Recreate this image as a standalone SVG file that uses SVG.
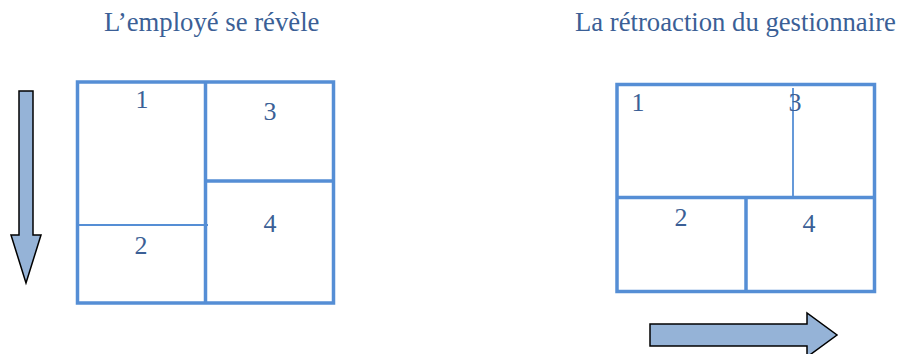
<svg xmlns="http://www.w3.org/2000/svg" width="897" height="354" viewBox="0 0 897 354">
<style>
.box{fill:none;stroke:#558ED5;stroke-width:3.5}
.thin{stroke:#558ED5;stroke-width:1.8;fill:none}
.t{font-family:"Liberation Serif",serif;fill:#3B5F96}
.title{font-size:26.7px}
.num{font-size:26px;text-anchor:middle}
.arrow{fill:#95B3D7;stroke:#000;stroke-width:1.5;stroke-linejoin:miter}
</style>
<rect width="897" height="354" fill="#fff"/>
<text class="t title" x="104" y="31">L’employé se révèle</text>
<text class="t title" x="575" y="31">La rétroaction du gestionnaire</text>
<g id="left-grid">
<rect class="box" x="77.5" y="82" width="256" height="221"/>
<line class="box" x1="205.5" y1="82" x2="205.5" y2="303"/>
<line class="box" x1="205.5" y1="181" x2="333.5" y2="181"/>
<line class="thin" x1="77.5" y1="225" x2="208" y2="225"/>
<text class="t num" x="142" y="108">1</text>
<text class="t num" x="141" y="254">2</text>
<text class="t num" x="270" y="120">3</text>
<text class="t num" x="270" y="232">4</text>
</g>
<g id="right-grid">
<rect class="box" x="617" y="84.5" width="257.5" height="207"/>
<line class="box" x1="617" y1="197.5" x2="874.5" y2="197.5"/>
<line class="box" x1="746" y1="197.5" x2="746" y2="291.5"/>
<line class="thin" x1="793" y1="88" x2="793" y2="197"/>
<text class="t num" x="638" y="111">1</text>
<text class="t num" x="795" y="111">3</text>
<text class="t num" x="681" y="226">2</text>
<text class="t num" x="809" y="232">4</text>
</g>
<g id="down-arrow">
<polygon class="arrow" points="19,91 33,91 33,235 41,235 26,283 11,235 19,235"/>
</g>
<g id="right-arrow">
<polygon class="arrow" points="650,324 807,324 807,313 837,335 807,357 807,346 650,346"/>
</g>
</svg>
